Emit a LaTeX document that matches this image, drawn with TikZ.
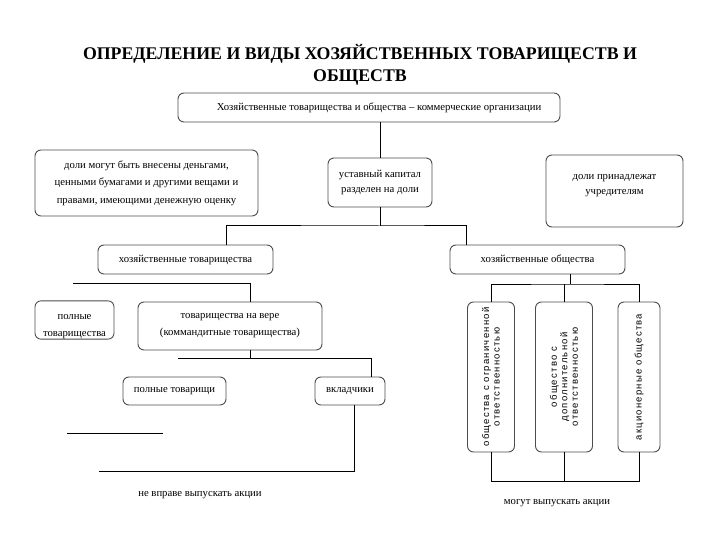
\documentclass[tikz,border=0pt]{standalone}
\usepackage{fontspec}
\setmainfont{Liberation Serif}
\newfontfamily\rotsans[LetterSpace=13]{Liberation Sans}
\begin{document}
\begin{tikzpicture}[x=1pt,y=-1pt,inner sep=0pt,outer sep=0pt,line width=1pt,
orgbox/.style={draw=black!70,rounded corners=6pt,line width=0.9pt,align=center,font=\fontsize{10.7}{15}\selectfont},
vertbox/.style={orgbox,rotate=90,minimum width=150pt,font=\rotsans\fontsize{9.5}{10.5}\selectfont},
plaintext/.style={font=\fontsize{10.7}{12}\selectfont}]
\useasboundingbox (0,0) rectangle (720,540);
\draw (360,65) node[align=center,font=\bfseries\fontsize{17.8}{22}\selectfont] (title) {ОПРЕДЕЛЕНИЕ И ВИДЫ ХОЗЯЙСТВЕННЫХ ТОВАРИЩЕСТВ И\\ОБЩЕСТВ};
\draw (369,107.5) node[orgbox,minimum width=382pt,minimum height=29pt] (top) {\hspace*{20pt}Хозяйственные товарищества и общества -- коммерческие организации};
\draw (146.5,183) node[orgbox,minimum width=223pt,minimum height=66pt,font=\fontsize{10.7}{17.5}\selectfont] (dep) {доли могут быть внесены деньгами,\\ценными бумагами и другими вещами и\\правами, имеющими денежную оценку};
\draw (380,182.5) node[orgbox,minimum width=104pt,minimum height=49pt] (cap) {уставный капитал\\разделен на доли};
\draw (614.5,191) node[orgbox,minimum width=137pt,minimum height=72pt] (own) {\parbox[c][54pt][t]{126pt}{\centering\vspace*{10pt}доли принадлежат\\учредителям}};
\draw (185.5,259.5) node[orgbox,minimum width=175pt,minimum height=29pt] (ht) {хозяйственные товарищества};
\draw (537.5,259.5) node[orgbox,minimum width=175pt,minimum height=29pt] (ho) {хозяйственные общества};
\draw (74.5,320) node[orgbox,minimum width=79pt,minimum height=38pt] (full) {\parbox[c][36pt][b]{76pt}{\centering полные\\[2pt]товарищества}};
\draw (230,326) node[orgbox,minimum width=184pt,minimum height=48pt,font=\fontsize{10.7}{17}\selectfont] (kom) {товарищества на вере\\(коммандитные товарищества)};
\draw (174.5,391) node[orgbox,minimum width=103pt,minimum height=28pt] (gen) {полные товарищи};
\draw (350,391) node[orgbox,minimum width=70pt,minimum height=28pt] (inv) {вкладчики};
\draw (491,377) node[vertbox,minimum height=47pt] (ooo) {общества с ограниченной\\ответственностью};
\draw (564,377) node[vertbox,minimum height=57pt] (odo) {общество с\\дополнительной\\ответственностью};
\draw (639,377) node[vertbox,minimum height=42pt] (ao) {акционерные общества};
\draw (200,495) node[plaintext] (noshare) {не вправе выпускать акции};
\draw (557,503) node[plaintext] (share) {могут выпускать акции};
\coordinate (e1) at (73,283);
\coordinate (e2) at (178,358);
\coordinate (e3) at (99,471);
\coordinate (e4) at (67,433);
\coordinate (e5) at (163,433);
\draw (top.south -| cap.north) -- (cap.north);
\draw (cap.south) -- ++(0,19) coordinate (j1);
\draw ([xshift=40.5pt]ht.north) |- (j1) -| ([xshift=-71.5pt]ho.north);
\draw (e1) -| ([xshift=20pt]kom.north);
\draw ([xshift=20pt]kom.south) -- ++(0,8);
\draw (e2) -| ([xshift=21pt]inv.north);
\draw ([xshift=4pt]inv.south) |- (e3);
\draw (e4) -- (e5);
\draw ([xshift=32.5pt]ho.south) -- ++(0,10) coordinate (j2);
\draw (ooo.east) |- (j2) -| (ao.east);
\draw (odo.east) -- (odo.east |- j2);
\draw (ooo.west) -- ++(0,29) coordinate (j3) -| (ao.west);
\draw (odo.west) -- (odo.west |- j3);
\end{tikzpicture}
\end{document}
